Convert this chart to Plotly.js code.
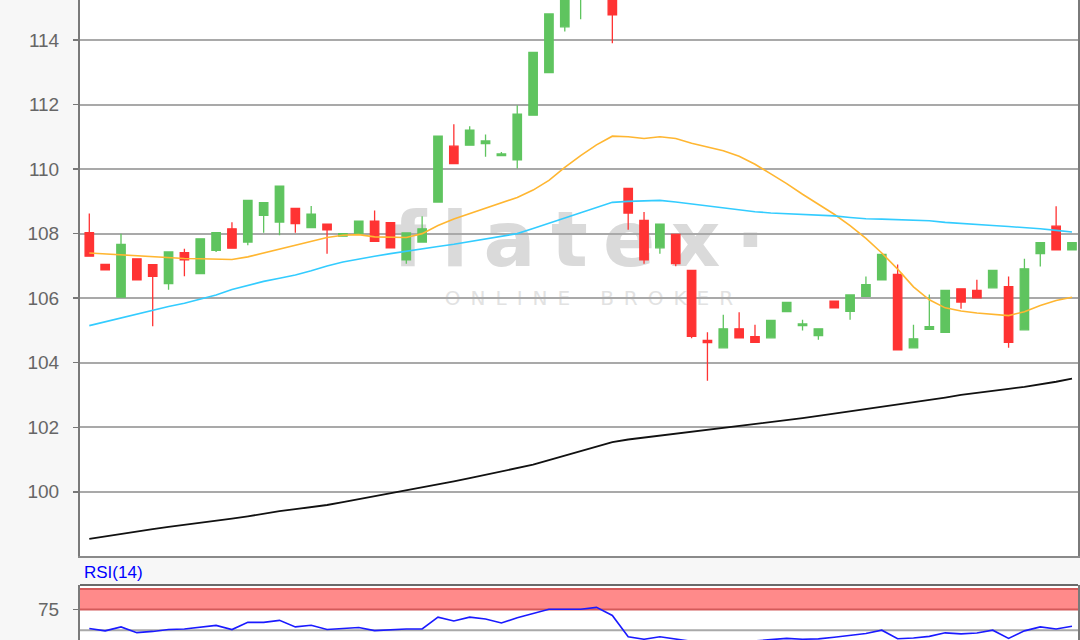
<!DOCTYPE html>
<html>
<head>
<meta charset="utf-8">
<script src="https://cdn.plot.ly/plotly-3.0.1.min.js"></script>
<style>
html,body{margin:0;padding:0;background:#f7f7f7;}
#chart{width:1080px;height:640px;}
</style>
</head>
<body>
<div id="chart"></div>
<script>
// ---- data (one value per trading day) ----
const openP  = [108.03,107.05,106.03,107.22,107.04,106.45,107.41,106.76,107.48,108.15,107.74,108.57,108.36,108.78,108.19,108.29,107.92,108.00,108.39,108.34,107.19,107.74,108.98,110.71,110.74,110.79,110.42,110.29,111.67,112.99,114.41,115.40,116.00,115.70,109.40,108.41,107.56,107.98,106.86,104.69,104.46,105.05,104.81,104.77,105.58,105.15,104.84,105.91,105.59,106.06,106.57,106.74,104.46,105.03,104.94,106.29,106.24,106.32,106.36,105.02,107.38,108.23,107.50];
const highP  = [108.62,107.05,108.00,107.22,107.04,107.43,107.53,107.84,108.03,108.35,109.03,108.96,109.47,108.78,108.86,108.29,108.00,108.39,108.72,108.34,108.02,108.54,111.02,111.39,111.33,111.07,110.53,111.98,113.62,114.81,115.80,116.10,116.60,116.20,109.40,108.67,108.29,107.98,106.86,104.94,105.49,105.56,105.18,105.31,105.87,105.33,105.05,105.91,106.10,106.67,107.36,107.04,105.18,106.11,106.24,106.29,106.57,106.86,106.67,107.22,107.72,108.85,107.72];
const lowP   = [107.30,106.88,106.03,106.57,105.13,106.26,106.68,106.76,107.43,107.55,107.64,108.03,107.95,108.03,108.19,107.38,107.92,108.00,107.76,107.56,107.07,107.74,108.98,110.17,110.74,110.38,110.42,110.02,111.67,112.99,114.26,114.64,115.60,113.90,108.12,107.07,107.38,106.99,104.76,103.44,104.46,104.77,104.63,104.77,105.58,105.00,104.71,105.70,105.33,106.06,106.57,104.40,104.46,105.03,104.94,105.67,106.01,106.32,104.46,105.02,106.98,107.50,107.50];
const closeP = [107.30,106.88,107.67,106.57,106.68,107.43,107.19,107.84,108.03,107.55,109.03,108.96,109.47,108.31,108.60,108.12,108.00,108.39,107.76,107.56,108.02,108.15,111.02,110.17,111.21,110.87,110.47,111.70,113.62,114.81,115.50,115.90,116.30,114.78,108.64,107.19,108.29,107.07,104.82,104.62,105.05,104.77,104.63,105.31,105.87,105.20,105.05,105.70,106.10,106.42,107.36,104.40,104.74,105.12,106.24,105.88,106.01,106.86,104.63,106.91,107.72,107.50,107.72];
const ma20   = [107.40,107.37,107.33,107.30,107.27,107.25,107.23,107.22,107.21,107.20,107.28,107.40,107.52,107.64,107.76,107.88,107.95,107.97,107.90,107.88,107.88,108.00,108.25,108.45,108.62,108.78,108.95,109.12,109.35,109.65,110.05,110.42,110.75,111.02,111.00,110.95,111.00,110.95,110.80,110.68,110.57,110.40,110.15,109.85,109.55,109.22,108.90,108.60,108.25,107.85,107.40,106.90,106.35,105.95,105.70,105.60,105.54,105.50,105.46,105.58,105.77,105.93,106.03];
const ma50   = [105.15,105.27,105.39,105.52,105.62,105.74,105.84,105.96,106.10,106.27,106.40,106.52,106.62,106.72,106.85,107.00,107.12,107.22,107.30,107.38,107.46,107.53,107.60,107.67,107.75,107.83,107.90,108.00,108.16,108.32,108.50,108.65,108.82,108.97,109.00,109.01,109.03,108.98,108.92,108.86,108.80,108.73,108.68,108.64,108.62,108.61,108.59,108.55,108.50,108.46,108.45,108.44,108.43,108.40,108.35,108.31,108.28,108.25,108.22,108.19,108.15,108.10,108.05];
const ma200  = [98.54,98.62,98.70,98.77,98.84,98.91,98.97,99.04,99.10,99.17,99.24,99.33,99.40,99.46,99.52,99.59,99.68,99.77,99.85,99.94,100.04,100.14,100.23,100.32,100.42,100.52,100.62,100.72,100.84,100.98,101.12,101.26,101.40,101.54,101.62,101.68,101.74,101.80,101.86,101.91,101.96,102.02,102.08,102.15,102.22,102.28,102.35,102.42,102.49,102.56,102.64,102.70,102.76,102.83,102.92,103.00,103.07,103.13,103.19,103.25,103.32,103.41,103.51];
const rsi14  = [52.0,49.2,54.0,47.0,48.5,50.8,51.5,53.5,55.8,50.8,59.5,59.5,61.9,54.0,56.0,50.8,52.0,53.2,49.5,50.5,51.5,51.5,65.8,61.1,65.8,63.5,58.7,65.1,69.9,75.4,75.4,75.4,77.7,67.9,42.0,39.0,42.0,39.0,36.5,36.5,37.0,37.0,37.0,38.5,40.1,39.0,39.5,41.5,43.7,46.0,50.0,39.6,40.5,42.5,46.8,45.5,46.5,50.0,40.1,49.2,54.0,51.5,54.8];
const priceTicks = [100,102,104,106,108,110,112,114];
const rsiTicks = [75];
const rsiTitle = "RSI(14)";
const watermark = "f\u2009l\u2009a\u2009t\u2009e\u2009x\u2009·";
const watermarkSub = "O\u2002N\u2002L\u2002I\u2002N\u2002E\u2003\u2002B\u2002R\u2002O\u2002K\u2002E\u2002R";

const days = openP.map((_, i) => i);

const GREEN = '#5fc45f', RED = '#ff3333';

const traces = [
  {type:'candlestick', x:days, open:openP, high:highP, low:lowP, close:closeP,
   xaxis:'x', yaxis:'y', hoverinfo:'skip', showlegend:false,
   increasing:{fillcolor:GREEN, line:{color:GREEN, width:1.3}},
   decreasing:{fillcolor:RED, line:{color:RED, width:1.3}}},
  {type:'scatter', mode:'lines', x:days, y:ma20, xaxis:'x', yaxis:'y',
   line:{color:'#ffb631', width:1.6}, hoverinfo:'skip', showlegend:false},
  {type:'scatter', mode:'lines', x:days, y:ma50, xaxis:'x', yaxis:'y',
   line:{color:'#33ccff', width:1.6}, hoverinfo:'skip', showlegend:false},
  {type:'scatter', mode:'lines', x:days, y:ma200, xaxis:'x', yaxis:'y',
   line:{color:'#111111', width:1.8}, hoverinfo:'skip', showlegend:false},
  {type:'scatter', mode:'lines', x:days, y:rsi14, xaxis:'x2', yaxis:'y2',
   line:{color:'#1a1aff', width:1.6}, hoverinfo:'skip', showlegend:false}
];

const tickFont = {family:'Liberation Sans, Arial, sans-serif', size:19, color:'#666666'};
const xRange = [-0.587, 62.38];

const layout = {
  width:1080, height:640,
  margin:{l:80, r:2, t:0, b:0},
  paper_bgcolor:'#f7f7f7', plot_bgcolor:'#ffffff',
  showlegend:false, boxgap:0.24,
  xaxis:{domain:[0,1], range:xRange, anchor:'y', showticklabels:false, showgrid:false, zeroline:false,
         rangeslider:{visible:false}, showline:true, linecolor:'#8a8a8a', linewidth:2, ticks:''},
  xaxis2:{domain:[0,1], range:xRange, anchor:'y2', matches:'x', showticklabels:false, showgrid:false,
          zeroline:false, showline:false, ticks:''},
  yaxis:{domain:[(640-556)/640, 1], range:[98.01, 115.24], tickvals:priceTicks, ticks:'outside', ticklen:5,
         tickcolor:'#777', tickwidth:1.5, ticklabelstandoff:10, tickfont:tickFont,
         showgrid:true, gridcolor:'#a9a9a9', gridwidth:2, zeroline:false,
         showline:true, mirror:true, linecolor:'#7a7a7a', linewidth:2},
  yaxis2:{domain:[0, (640-585)/640], range:[38.1, 104.8], tickvals:rsiTicks, ticks:'outside', ticklen:5,
          tickcolor:'#777', tickwidth:1.5, ticklabelstandoff:10, tickfont:tickFont,
          showgrid:false, zeroline:false, showline:true, mirror:true, linecolor:'#7a7a7a', linewidth:2},
  shapes:[
    // watermark (drawn under gridlines and candles)
    {type:'rect', xref:'x domain', yref:'y domain', x0:0.30, x1:0.70, y0:0.52, y1:0.64,
     line:{width:0}, fillcolor:'rgba(0,0,0,0)', layer:'below',
     label:{text:watermark, textposition:'middle center', padding:0,
            font:{family:'DejaVu Sans, sans-serif', size:77, weight:'bold', color:'#dadada'}}},
    {type:'rect', xref:'x domain', yref:'y domain', x0:0.30, x1:0.72, y0:0.44, y1:0.49,
     line:{width:0}, fillcolor:'rgba(0,0,0,0)', layer:'below',
     label:{text:watermarkSub, textposition:'middle center', padding:0,
            font:{family:'DejaVu Sans, sans-serif', size:20, color:'#e2e2e2'}}},
    // RSI overbought band and guide lines
    {type:'rect', xref:'x2 domain', yref:'y2', x0:0, x1:1, y0:75, y1:100, fillcolor:'#ff8a8a', line:{width:0}, layer:'below'},
    {type:'line', xref:'x2 domain', yref:'y2', x0:0, x1:1, y0:75, y1:75, line:{color:'#d45a5a', width:2}, layer:'below'},
    {type:'line', xref:'x2 domain', yref:'y2', x0:0, x1:1, y0:100, y1:100, line:{color:'#d45a5a', width:2}, layer:'below'},
    {type:'line', xref:'x2 domain', yref:'y2', x0:0, x1:1, y0:50, y1:50, line:{color:'#a9a9a9', width:2}, layer:'below'},
    {type:'line', xref:'x2 domain', yref:'y2 domain', x0:0, x1:1, y0:1, y1:1, line:{color:'#6a6a6a', width:2}}
  ],
  annotations:[
    {text:rsiTitle, xref:'paper', yref:'paper', x:0.002, y:(640-584)/640, xanchor:'left', yanchor:'bottom',
     showarrow:false, font:{family:'Liberation Sans, Arial, sans-serif', size:17, color:'#0000ff'}}
  ]
};

Plotly.newPlot('chart', traces, layout, {staticPlot:true, displayModeBar:false});
</script>
</body>
</html>
